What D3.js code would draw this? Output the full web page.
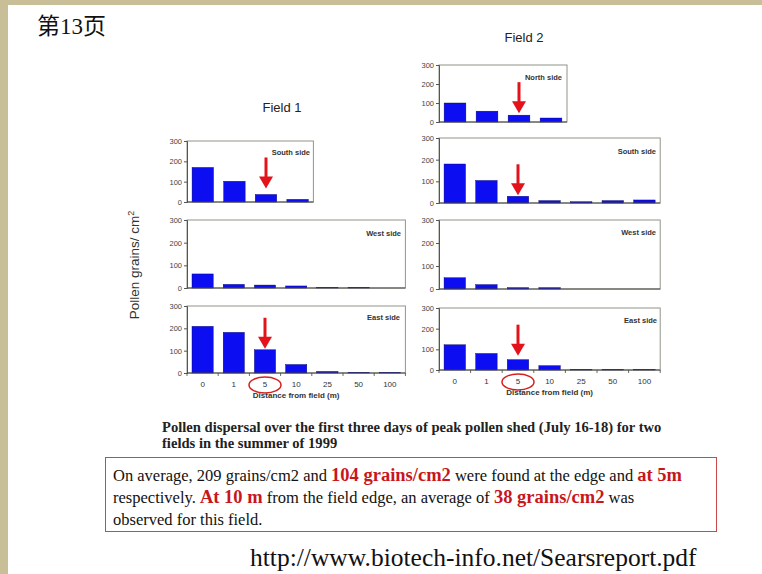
<!DOCTYPE html>
<html>
<head>
<meta charset="utf-8">
<script src="https://cdn.jsdelivr.net/npm/d3@7"></script>
<style>
  body { margin: 0; background: #fff; }
  svg { display: block; }
</style>
</head>
<body>
<svg id="chart" width="762" height="574"></svg>
<script>
// distances (m) and pollen counts per side
const distances = ["0", "1", "5", "10", "25", "50", "100"];
const yTicks = [0, 100, 200, 300];

const field1South = [170, 102, 37, 13];
const field1West = [62, 16, 13, 9, 3, 3, 0];
const field1East = [209, 182, 104, 38, 7, 3, 3];

const field2North = [100, 57, 36, 21];
const field2South = [180, 104, 31, 11, 6, 11, 14];
const field2West = [49, 19, 6, 6, 0, 0, 0];
const field2East = [122, 80, 50, 21, 3, 3, 3];

const svg = d3.select("#chart");
const W = 762, H = 574;

svg.append("rect").attr("width", W).attr("height", H).attr("fill", "#c8bf98");
svg.append("rect").attr("x", 8).attr("y", 5).attr("width", W - 8).attr("height", H - 5).attr("fill", "#fff");

svg.append("text")
  .attr("x", 37).attr("y", 34)
  .style("font-family", "'Liberation Serif', 'Noto Sans CJK SC', serif")
  .style("font-size", "23px")
  .attr("fill", "#111")
  .text("第13页");

const blue = "#0d0df2";
const red = "#e3121b";

function panel(opts) {
  const n = opts.values.length;
  const x = d3.scaleBand()
    .domain(distances)
    .range([opts.x0, opts.x0 + opts.bw * distances.length])
    .paddingInner(0.32).paddingOuter(0.16);
  const y = d3.scaleLinear().domain([0, 300]).range([opts.y1, opts.y0]);
  const g = svg.append("g");
  const right = opts.x0 + opts.bw * n;

  // plot box
  g.append("rect")
    .attr("x", opts.x0).attr("y", opts.y0)
    .attr("width", right - opts.x0).attr("height", opts.y1 - opts.y0)
    .attr("fill", "none").attr("stroke", "#8f9688").attr("stroke-width", 1);

  // y axis
  const ya = g.append("g")
    .attr("transform", `translate(${opts.x0},0)`)
    .call(d3.axisLeft(y).tickValues(yTicks).tickSize(3).tickPadding(2));
  ya.select(".domain").attr("stroke", "#555");
  ya.selectAll(".tick line").attr("stroke", "#555");
  ya.selectAll("text").style("font-family", "Arial, 'Liberation Sans', sans-serif")
    .style("font-size", "7.5px").attr("fill", "#444");

  // bars
  g.selectAll("rect.bar")
    .data(opts.values.map((v, i) => ({ d: distances[i], v })))
    .enter().append("rect").attr("class", "bar")
    .attr("x", d => x(d.d))
    .attr("width", x.bandwidth())
    .attr("y", d => y(d.v))
    .attr("height", d => y(0) - y(d.v))
    .attr("fill", blue).attr("stroke", "#000060").attr("stroke-width", 0.4);

  // x axis baseline
  const xa = g.append("g")
    .attr("transform", `translate(0,${opts.y1})`)
    .call(d3.axisBottom(x).tickSize(0).tickFormat(opts.labels ? (d => d) : () => "").tickPadding(8));
  xa.select(".domain").attr("stroke", "#444").attr("d", `M${opts.x0},0H${right}`);
  xa.selectAll("text").style("font-family", "Arial, 'Liberation Sans', sans-serif")
    .style("font-size", "8px").attr("fill", "#333");
  if (!opts.labels) xa.selectAll(".tick").remove();

  // category separators on the bottom axis
  if (opts.labels) {
    g.selectAll("line.sep")
      .data(d3.range(distances.length + 1))
      .enter().append("line")
      .attr("x1", i => opts.x0 + i * opts.bw).attr("x2", i => opts.x0 + i * opts.bw)
      .attr("y1", opts.y1).attr("y2", opts.y1 + 3)
      .attr("stroke", "#444").attr("stroke-width", 0.8);
  }

  // side label
  g.append("text")
    .attr("x", opts.lx).attr("y", opts.ly)
    .attr("text-anchor", "end")
    .style("font-family", "Arial, 'Liberation Sans', sans-serif")
    .style("font-size", "7.5px").style("font-weight", "bold")
    .attr("fill", "#333")
    .text(opts.name);

  // red arrow to the 5 m bar
  if (opts.arrow) {
    const cx = x("5") + x.bandwidth() / 2;
    const tip = y(opts.values[2]) - opts.gap;
    const top = tip - 31;
    g.append("line")
      .attr("x1", cx).attr("x2", cx).attr("y1", top).attr("y2", tip - 10)
      .attr("stroke", red).attr("stroke-width", 3);
    g.append("path")
      .attr("d", `M${cx - 7},${tip - 12}L${cx + 7},${tip - 12}L${cx},${tip}Z`)
      .attr("fill", red);
  }

  if (opts.labels) {
    const cx = x("5") + x.bandwidth() / 2;
    g.append("ellipse")
      .attr("cx", cx).attr("cy", opts.y1 + 12)
      .attr("rx", 16).attr("ry", 8)
      .attr("fill", "none").attr("stroke", "#d42020").attr("stroke-width", 1.5);
    g.append("text")
      .attr("x", (opts.x0 + right) / 2).attr("y", opts.y1 + 25)
      .attr("text-anchor", "middle")
      .style("font-family", "Arial, 'Liberation Sans', sans-serif")
      .style("font-size", "8px").style("font-weight", "bold")
      .attr("fill", "#333")
      .text("Distance from field (m)");
  }
}

// Field 1
panel({ values: field1South, name: "South side", x0: 187, bw: 31.6, y0: 141, y1: 202, lx: 310, ly: 155, arrow: true, gap: 6 });
panel({ values: field1West, name: "West side", x0: 187, bw: 31.2, y0: 220, y1: 288, lx: 401, ly: 236 });
panel({ values: field1East, name: "East side", x0: 187, bw: 31.2, y0: 306, y1: 373, lx: 400, ly: 320, arrow: true, gap: 1, labels: true });

// Field 2
panel({ values: field2North, name: "North side", x0: 439, bw: 32, y0: 65, y1: 122, lx: 562, ly: 80, arrow: true, gap: 2 });
panel({ values: field2South, name: "South side", x0: 439, bw: 31.6, y0: 138, y1: 203, lx: 656, ly: 154, arrow: true, gap: 1 });
panel({ values: field2West, name: "West side", x0: 439, bw: 31.6, y0: 220, y1: 289, lx: 656, ly: 235 });
panel({ values: field2East, name: "East side", x0: 439, bw: 31.6, y0: 308, y1: 370, lx: 657, ly: 323, arrow: true, gap: 4, labels: true });

const arial = "Arial, 'Liberation Sans', sans-serif";
svg.append("text").attr("x", 282).attr("y", 112).attr("text-anchor", "middle")
  .style("font-family", arial).style("font-size", "13px").attr("fill", "#222").text("Field 1");
svg.append("text").attr("x", 524).attr("y", 42).attr("text-anchor", "middle")
  .style("font-family", arial).style("font-size", "13px").attr("fill", "#222").text("Field 2");

// y axis title
const yt = svg.append("text")
  .attr("transform", "translate(139,265) rotate(-90)")
  .attr("text-anchor", "middle")
  .style("font-family", arial).style("font-size", "13.5px").attr("fill", "#333");
yt.append("tspan").text("Pollen grains/ cm");
yt.append("tspan").attr("dy", -5).style("font-size", "9px").text("2");

// caption
const serif = "'Liberation Serif', 'Times New Roman', serif";
const cap = ["Pollen dispersal over the first three days of peak pollen shed (July 16-18) for two",
  "fields in the summer of 1999"];
svg.selectAll("text.cap").data(cap).enter().append("text")
  .attr("x", 162).attr("y", (d, i) => 432 + i * 16)
  .style("font-family", serif).style("font-size", "14.6px").style("font-weight", "bold")
  .attr("fill", "#222").text(d => d);

// note box
svg.append("rect").attr("x", 105.5).attr("y", 457.5).attr("width", 611).attr("height", 74)
  .attr("fill", "none").attr("stroke", "#c94848").attr("stroke-width", 1);

const note = [
  [["On average, 209 grains/cm2 and ", 0], ["104 grains/cm2", 1], [" were found at the edge and ", 0], ["at 5m", 1]],
  [["respectively. ", 0], ["At 10 m", 1], [" from the field edge, an average of ", 0], ["38 grains/cm2", 1], [" was", 0]],
  [["observed for this field.", 0]]
];
note.forEach((line, i) => {
  const t = svg.append("text").attr("x", 113).attr("y", 481 + i * 22)
    .style("font-family", serif).style("font-size", "16.5px").attr("fill", "#111");
  line.forEach(([s, hi]) => {
    const sp = t.append("tspan").text(s);
    if (hi) sp.style("font-weight", "bold").style("font-size", "18.5px").attr("fill", "#c8161d");
  });
});

svg.append("text").attr("x", 250).attr("y", 566)
  .style("font-family", serif).style("font-size", "25.5px").attr("fill", "#111")
  .text("http://www.biotech-info.net/Searsreport.pdf");
</script>
</body>
</html>
